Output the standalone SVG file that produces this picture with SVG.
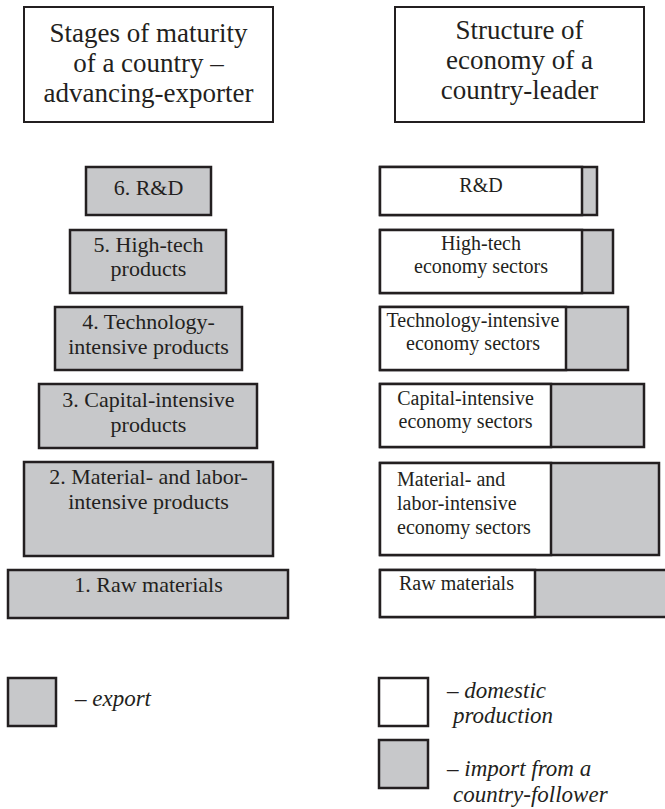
<svg xmlns="http://www.w3.org/2000/svg" width="665" height="809" viewBox="0 0 665 809">
<style>
.hdr{fill:#fff;stroke:#231f20;stroke-width:2}
.g{fill:#c7c8ca;stroke:#231f20;stroke-width:2.5}
.w{fill:#fff;stroke:#231f20;stroke-width:2.5}
text{fill:#231f20}
.ht{font-size:27px;text-anchor:middle}
.lt{font-size:22px;text-anchor:middle}
.rt{font-size:20px;text-anchor:middle}
.rl{font-size:20px}
.it{font-size:23px;font-style:italic}
</style>
<rect width="665" height="809" fill="#fff"/>
<g font-family="'Liberation Serif', 'DejaVu Serif', 'Times New Roman', serif">
<g id="header-left">
<rect class="hdr" x="24" y="7" width="249" height="115"/>
<text class="ht" x="148.5" y="42">Stages of maturity</text>
<text class="ht" x="148.5" y="72">of a country –</text>
<text class="ht" x="148.5" y="102">advancing-exporter</text>
</g>
<g id="header-right">
<rect class="hdr" x="395" y="7" width="249" height="115"/>
<text class="ht" x="519.5" y="39">Structure of</text>
<text class="ht" x="519.5" y="69">economy of a</text>
<text class="ht" x="519.5" y="99">country-leader</text>
</g>
<g id="stage6">
<rect class="g" x="86" y="167" width="125" height="48"/>
<text class="lt" x="148.5" y="195">6. R&amp;D</text>
</g>
<g id="stage5">
<rect class="g" x="70" y="230" width="156" height="63"/>
<text class="lt" x="148.5" y="252">5. High-tech</text>
<text class="lt" x="148.5" y="276">products</text>
</g>
<g id="stage4">
<rect class="g" x="55" y="307" width="187" height="63"/>
<text class="lt" x="148.5" y="329">4. Technology-</text>
<text class="lt" x="148.5" y="354">intensive products</text>
</g>
<g id="stage3">
<rect class="g" x="39" y="384" width="218" height="64"/>
<text class="lt" x="148.5" y="407">3. Capital-intensive</text>
<text class="lt" x="148.5" y="432">products</text>
</g>
<g id="stage2">
<rect class="g" x="24" y="462" width="249" height="94"/>
<text class="lt" x="148.5" y="484">2. Material- and labor-</text>
<text class="lt" x="148.5" y="509">intensive products</text>
</g>
<g id="stage1">
<rect class="g" x="8" y="570" width="280" height="48"/>
<text class="lt" x="148.5" y="592">1. Raw materials</text>
</g>
<g id="leader-rd">
<rect class="g" x="380" y="167" width="217" height="48"/>
<rect class="w" x="380" y="167" width="202" height="48"/>
<text class="rt" x="481" y="192">R&amp;D</text>
</g>
<g id="leader-hightech">
<rect class="g" x="380" y="230" width="233" height="63"/>
<rect class="w" x="380" y="230" width="202" height="63"/>
<text class="rt" x="481" y="250">High-tech</text>
<text class="rt" x="481" y="273">economy sectors</text>
</g>
<g id="leader-tech">
<rect class="g" x="380" y="307" width="248" height="63"/>
<rect class="w" x="380" y="307" width="186" height="63"/>
<text class="rt" x="473" y="327">Technology-intensive</text>
<text class="rt" x="473" y="350">economy sectors</text>
</g>
<g id="leader-capital">
<rect class="g" x="380" y="384" width="264" height="63"/>
<rect class="w" x="380" y="384" width="171" height="63"/>
<text class="rt" x="465.5" y="405">Capital-intensive</text>
<text class="rt" x="465.5" y="428">economy sectors</text>
</g>
<g id="leader-material">
<rect class="g" x="380" y="463" width="279" height="92"/>
<rect class="w" x="380" y="463" width="171" height="92"/>
<text class="rl" x="397" y="486">Material- and</text>
<text class="rl" x="397" y="510">labor-intensive</text>
<text class="rl" x="397" y="534">economy sectors</text>
</g>
<g id="leader-raw">
<rect class="g" x="380" y="570" width="290" height="47"/>
<rect class="w" x="380" y="570" width="155" height="47"/>
<text class="rl" x="399" y="590">Raw materials</text>
</g>
<g id="connectors"></g>
<g id="legend-export">
<rect class="g" x="8" y="678" width="48" height="48"/>
<text class="it" x="75" y="706">– export</text>
</g>
<g id="legend-domestic">
<rect class="w" x="379" y="678" width="49" height="48"/>
<text class="it" x="447" y="698">– domestic</text>
<text class="it" x="453" y="723">production</text>
</g>
<g id="legend-import">
<rect class="g" x="379" y="740" width="49" height="48"/>
<text class="it" x="447" y="776">– import from a</text>
<text class="it" x="453" y="802">country-follower</text>
</g>
</g>
</svg>
